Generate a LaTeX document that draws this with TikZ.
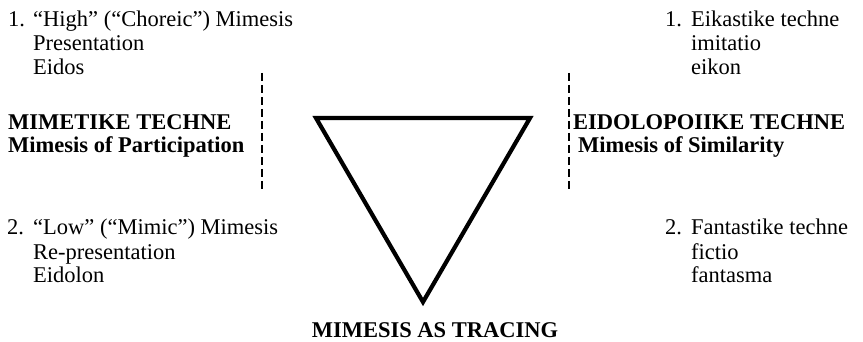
\documentclass[tikz,border=0pt]{standalone}
\usepackage{fontspec}
\setmainfont{Liberation Serif}
\begin{document}
\begin{tikzpicture}[x=1pt,y=-1pt,
  txt/.style={inner sep=0pt,anchor=base west,font=\fontsize{22.5}{24}\selectfont},
  btxt/.style={txt,font=\fontsize{22.5}{24}\selectfont\bfseries},
  divider/.style={line width=1.1pt,dash pattern=on 8pt off 4pt},
  tri/.style={line width=4.2pt,line join=miter}]
\useasboundingbox (0,0) rectangle (863,342);
% left top
\node[txt] (l1n) at (8,27) {1.};
\node[txt] (l1a) at (33,27) {“High” (“Choreic”) Mimesis};
\node[txt] (l1b) at (33,51) {Presentation};
\node[txt] (l1c) at (33,75) {Eidos};
\node[btxt] (lh1) at (8,130) {MIMETIKE TECHNE};
\node[btxt] (lh2) at (8,153) {Mimesis of Participation};
\node[txt] (l2n) at (7,235) {2.};
\node[txt] (l2a) at (33,235) {“Low” (“Mimic”) Mimesis};
\node[txt] (l2b) at (33,259) {Re-presentation};
\node[txt] (l2c) at (33,283) {Eidolon};
% right
\node[txt] (r1n) at (665,27) {1.};
\node[txt] (r1a) at (691,27) {Eikastike techne};
\node[txt] (r1b) at (691,51) {imitatio};
\node[txt] (r1c) at (691,75) {eikon};
\node[btxt] (rh1) at (573,130) {EIDOLOPOIIKE TECHNE};
\node[btxt] (rh2) at (578,153) {Mimesis of Similarity};
\node[txt] (r2n) at (665,235) {2.};
\node[txt] (r2a) at (691,235) {Fantastike techne};
\node[txt] (r2b) at (691,259) {fictio};
\node[txt] (r2c) at (691,283) {fantasma};
% dividers
\coordinate (dl1) at (262,73); \coordinate (dl2) at (262,190);
\coordinate (dr1) at (569,73); \coordinate (dr2) at (569,190);
\draw[divider] (dl1) -- (dl2);
\draw[divider] (dr1) -- (dr2);
% triangle
\coordinate (ta) at (316,118);
\coordinate (tb) at (530,118);
\coordinate (tc) at (423,302);
\draw[tri] (ta) -- (tb) -- (tc) -- cycle;
\node[btxt,anchor=base] (bt) at (435,337) {MIMESIS AS TRACING};
\end{tikzpicture}
\end{document}
